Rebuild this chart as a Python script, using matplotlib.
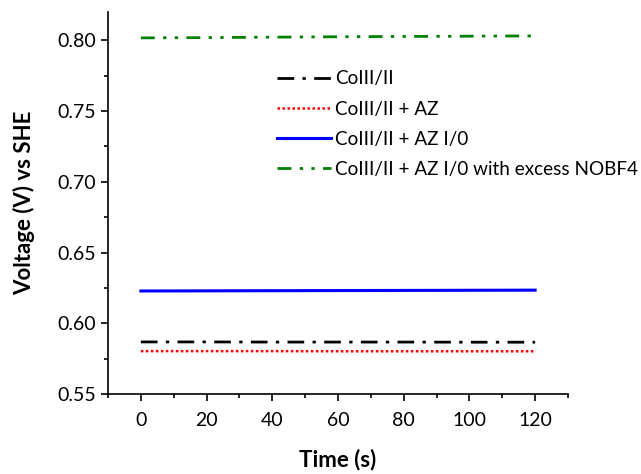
import matplotlib
matplotlib.use("Agg")
import matplotlib.pyplot as plt
from matplotlib.ticker import MultipleLocator

plt.rcParams['font.family'] = ['Lato', 'DejaVu Sans']

# data
time_s = [0, 20, 40, 60, 80, 100, 120]
co = [0.5868, 0.5868, 0.5867, 0.5867, 0.5867, 0.5866, 0.5866]
co_az = [0.5803, 0.5803, 0.5803, 0.5802, 0.5802, 0.5802, 0.5802]
co_az_io = [0.6228, 0.6229, 0.6230, 0.6231, 0.6232, 0.6233, 0.6234]
co_az_io_nobf4 = [0.8017, 0.8019, 0.8022, 0.8025, 0.8027, 0.8029, 0.8031]
labels = ['CoIII/II', 'CoIII/II + AZ', 'CoIII/II + AZ I/0',
          'CoIII/II + AZ I/0 with excess NOBF4']

fig = plt.figure(figsize=(6.41, 4.74), dpi=100)
ax = fig.add_axes([0.1685, 0.1688, 0.7176, 0.8059])

ax.plot(time_s, co, color='black', lw=2, linestyle=(0, (6, 3, 1.2, 3)), label=labels[0])
ax.plot(time_s, co_az, color='red', lw=1.8, linestyle=(0, (1, 1)), label=labels[1])
ax.plot(time_s, co_az_io, color='blue', lw=2.2, linestyle='-', label=labels[2])
ax.plot(time_s, co_az_io_nobf4, color='green', lw=2, linestyle=(0, (5, 3, 1.2, 3, 1.2, 3)), label=labels[3])

ax.set_xlim(-10, 130)
ax.set_ylim(0.55, 0.82)
ax.xaxis.set_major_locator(MultipleLocator(20))
ax.xaxis.set_minor_locator(MultipleLocator(10))
ax.yaxis.set_major_locator(MultipleLocator(0.05))
ax.yaxis.set_minor_locator(MultipleLocator(0.025))
ax.yaxis.set_major_formatter(matplotlib.ticker.FormatStrFormatter('%.2f'))

ax.spines['top'].set_visible(False)
ax.spines['right'].set_visible(False)
ax.spines['left'].set_linewidth(1.2)
ax.spines['bottom'].set_linewidth(1.2)
ax.tick_params(which='major', direction='out', length=5, width=1.2, labelsize=14)
ax.tick_params(which='minor', direction='out', length=3, width=1.2)
ax.tick_params(axis='x', pad=8)

ax.set_xlabel('Time (s)', fontsize=16, fontweight='bold', labelpad=14)
ax.set_ylabel('Voltage (V) vs SHE', fontsize=16, fontweight='bold', labelpad=16)

ax.legend(loc='upper left', bbox_to_anchor=(0.35, 0.867), frameon=False,
          fontsize=13.6, handlelength=2.9, handletextpad=0.2, labelspacing=0.7,
          borderaxespad=0)

fig.savefig('out.png', dpi=100)
